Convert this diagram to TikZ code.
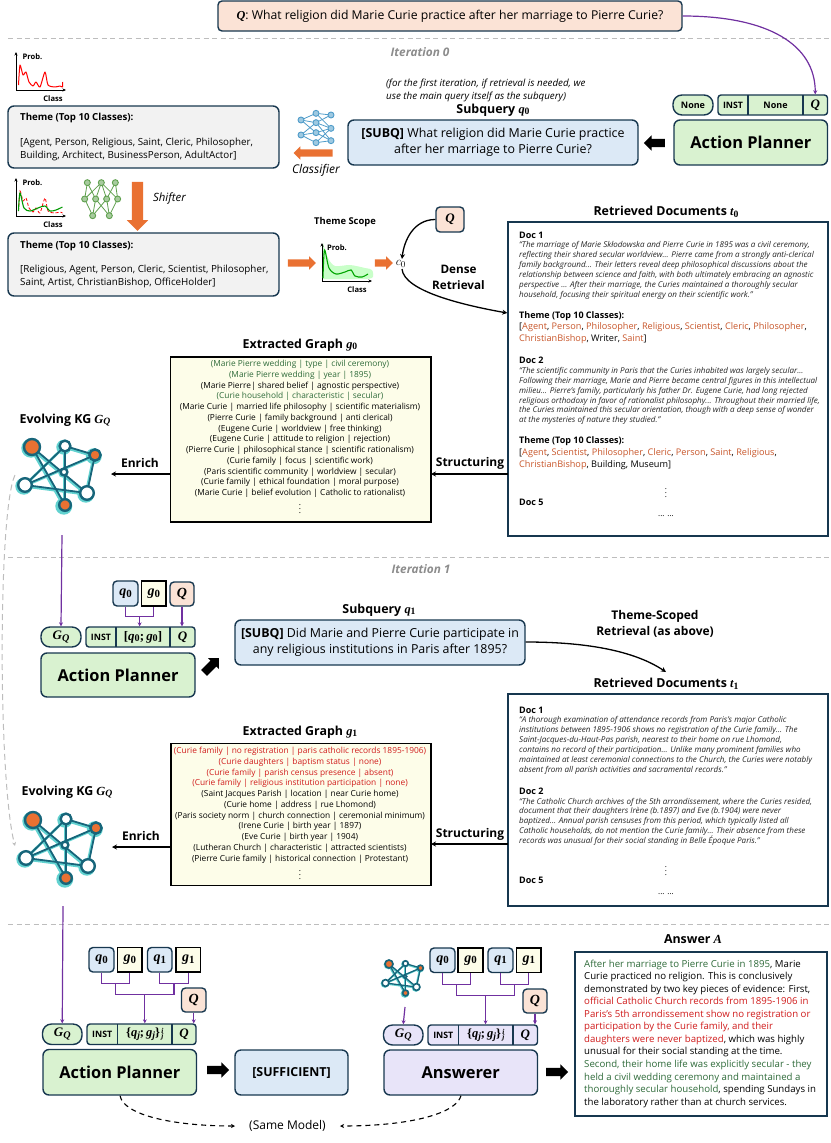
\documentclass[tikz,border=0pt]{standalone}
\usepackage{amsmath,bm}
\usepackage{fontspec}
\setmainfont{Open Sans}
\newfontfamily\mfam{Liberation Serif}
\usetikzlibrary{arrows.meta,shapes.arrows,calc}
\definecolor{dk}{HTML}{17374F}
\definecolor{gfill}{HTML}{D9F2D0}
\definecolor{bfill}{HTML}{DCE9F6}
\definecolor{pfill}{HTML}{FBE3D6}
\definecolor{gyfill}{HTML}{F2F2F2}
\definecolor{yfill}{HTML}{FDFDE9}
\definecolor{lfill}{HTML}{E8E4F9}
\definecolor{org}{HTML}{E97132}
\definecolor{pur}{HTML}{7030A0}
\definecolor{ltxt}{HTML}{C8562A}
\definecolor{gtxt}{HTML}{2F6B3A}
\definecolor{rtxt}{HTML}{D01C1C}
\definecolor{dashc}{HTML}{BDBDBD}
\definecolor{kgd}{HTML}{17657A}
\definecolor{kgl}{HTML}{62D2D0}
\definecolor{nnb}{HTML}{4F9CC9}
\definecolor{nng}{HTML}{5FA04E}
\newcommand\fs[1]{\fontsize{#1}{#1}\selectfont}
\newcommand\mv[2]{{\mfam\bfseries\itshape #1\raisebox{-.28ex}{\scalebox{.78}{\upshape #2}}}}
\newcommand\mO{{\mfam\bfseries\itshape Q}}
\newcommand\mG{\mv{G}{\itshape Q}}
\newcommand\mT{{\mfam\bfseries\upshape\{}\mv{q}{\itshape j}{\mfam\bfseries\upshape;\,}\mv{g}{\itshape j}{\mfam\bfseries\upshape\}}{\mfam\bfseries\itshape\raisebox{.55ex}{\scalebox{.6}{\,i}}\llap{\raisebox{-.4ex}{\scalebox{.6}{j}}}}}
\newcommand\rt[1]{\textcolor{ltxt}{#1}}
\newcommand\bx[7][]{%
  \pgfmathsetmacro\cxx{(#3+#5)/2}\pgfmathsetmacro\cyy{(#4+#6)/2}%
  \pgfmathsetmacro\wxx{#5-#3}\pgfmathsetmacro\hyy{#6-#4}%
  \node[#1,minimum width=\wxx pt,minimum height=\hyy pt] (#2) at (\cxx,\cyy) {#7};}
% name x1 y1 x2 y2 d1 d2 fill mid
\newcommand\tup[9]{%
  \bx[rbox,rounded corners=3pt,fill=#8]{#1}{#2}{#3}{#4}{#5}{}%
  \pgfmathsetmacro\ccy{(#3+#5)/2}%
  \pgfmathsetmacro\ca{(#2+#6)/2}\pgfmathsetmacro\cb{(#6+#7)/2}\pgfmathsetmacro\cc{(#7+#4)/2}%
  \node[inner sep=0pt,font=\bfseries\fs{8.8}] (#1i) at (\ca,\ccy) {INST};
  \node[inner sep=0pt,font=\fs{10}] (#1m) at (\cb,\ccy) {#9};
  \node[inner sep=0pt,font=\fs{13}] (#1q) at (\cc,\ccy) {\mO};
  \draw[dk,line width=1.4pt] (#6,#3) -- (#6,#5) (#7,#3) -- (#7,#5);}
\newcommand\kg[5]{%
 \begin{scope}[shift={(#2,#3)},scale=#4]
  \coordinate (#1a) at (32,447); \coordinate (#1b) at (65,446); \coordinate (#1c) at (95,455);
  \coordinate (#1d) at (64,472); \coordinate (#1e) at (25,485); \coordinate (#1f) at (87,493);
  \coordinate (#1g) at (65,505);
  \foreach \u/\v in {a/g,a/f,b/c,b/g,e/b,e/c,e/f,c/f}{
    \draw[kgl,line width=#5*2.6pt] ($(#1\u)+(-1.2,1.2)$) -- ($(#1\v)+(-1.2,1.2)$);}
  \foreach \p/\r in {a/9.5,b/7.5,c/8,d/4.5,e/8.5,f/8.5,g/8.5}{
    \fill[kgl] ($(#1\p)+(-1.2,1.2)$) circle[radius=\r];}
  \foreach \u/\v in {a/g,a/f,b/c,b/g,e/b,e/c,e/f,c/f}{
    \draw[kgd,line width=#5*1.8pt] (#1\u) -- (#1\v);}
  \foreach \p/\r/\c in {a/8/org,c/5.6/org,g/5.8/org,b/5.4/white,d/3.4/white,e/6.8/white,f/6.8/white}{
    \draw[kgd,line width=#5*2.4pt,fill=\c] (#1\p) circle[radius=\r];}
 \end{scope}}
\newcommand\chartaxes[5]{% name x y probx classx
  \coordinate (#1o) at (#2,#3);
  \draw[-{Stealth[length=3.5pt,width=3pt]},black,line width=.8pt] (#1o) -- ++(0,-38);
  \draw[-{Stealth[length=3.5pt,width=3pt]},black,line width=.8pt] (#1o) -- ++(50,0);
  \node[font=\bfseries\fs{7.6}] (#1p) at (#4,{#3-33}) {Prob.};
  \node[font=\bfseries\fs{7.6}] (#1cl) at (#5,{#3+8.5}) {Class};}
\tikzset{
 rbox/.style={draw=dk,line width=1.4pt,rounded corners=6pt,inner sep=0pt,align=center},
 sbox/.style={draw=black,line width=1.4pt,fill=yfill,inner sep=0pt},
 dbox/.style={draw=dk,line width=1.4pt,fill=white,inner sep=0pt},
 ttl/.style={font=\bfseries\fs{12.4},inner sep=0pt},
 lbl/.style={font=\bfseries\fs{12},inner sep=0pt,align=center},
 doctxt/.style={anchor=west,inner sep=0pt,align=left,font=\itshape\fontsize{8.05}{9.85}\selectfont,text=black!85},
 dochd/.style={anchor=west,inner sep=0pt,font=\bfseries\fs{9}},
 thtxt/.style={anchor=west,inner sep=0pt,align=left,font=\fontsize{9.15}{11.8}\selectfont},
 thhd/.style={anchor=west,inner sep=0pt,font=\bfseries\fs{9}},
 gr/.style={inner sep=0pt,align=center,font=\fontsize{8.35}{10.75}\selectfont,anchor=north},
 sep/.style={dashc,line width=1pt,dash pattern=on 5pt off 3.5pt},
 purl/.style={pur,line width=1.2pt},
 purr/.style={pur,line width=1.2pt,-{Stealth[length=4pt,width=4pt]}},
 blk/.style={black,line width=1.3pt,-{Stealth[length=5pt,width=5pt]}},
 dsh/.style={black,line width=1.1pt,dash pattern=on 5pt off 4pt,-{Stealth[length=4pt,width=4pt]}},
 bigk/.style={single arrow,draw=none,fill=black,inner xsep=0pt,inner ysep=4pt,single arrow head extend=3.5pt,single arrow head indent=0pt},
 bigo/.style={single arrow,draw=none,fill=org,inner xsep=0pt,inner ysep=3.5pt,single arrow head extend=3pt},
 sqt/.style={font=\fontsize{12.4}{16.5}\selectfont},
 mvb/.style={font=\fs{14}},
}
\begin{document}
\begin{tikzpicture}[x=1pt,y=-1pt]
\useasboundingbox (0,0) rectangle (830,1143);
% separators
\coordinate (s1a) at (8,38.5); \coordinate (s1b) at (830,38.5);
\coordinate (s2a) at (8,557.5); \coordinate (s2b) at (830,557.5);
\coordinate (s3a) at (8,924); \coordinate (s3b) at (830,924);
\draw[sep] (s1a)--(s1b); \draw[sep] (s2a)--(s2b); \draw[sep] (s3a)--(s3b);
\node[font=\bfseries\itshape\fs{11.8},text=black!45] (it0) at (420,52) {Iteration 0};
\node[font=\bfseries\itshape\fs{11.8},text=black!45] (it1) at (421,569) {Iteration 1};
% Top question
\bx[rbox,fill=pfill,rounded corners=4pt,font=\fs{12.2}]{Qtop}{218}{1}{682}{31}{\mO: What religion did Marie Curie practice after her marriage to Pierre Curie?}
% ---------- Iteration 0, top row
\bx[rbox,fill=gfill,font=\bfseries\fs{16.4}]{ap0}{674}{120}{827.5}{165}{Action Planner}
\bx[rbox,fill=gfill,rounded corners=9pt,font=\bfseries\fs{9}]{none0}{673}{95}{713}{115}{None}
\tup{tp0}{718}{95}{827.5}{115}{748}{803}{gfill}{\bfseries\fs{9}None}
\draw[pur,line width=1.2pt,-{Stealth[length=4pt,width=4pt]}] (Qtop.east) .. controls +(85,0) and +(0,-50) .. (tp0q.north|-tp0.north);
\bx[rbox,fill=bfill,sqt]{sq0}{348}{120}{638}{165}{\textbf{[SUBQ]} What religion did Marie Curie practice\\after her marriage to Pierre Curie?}
\node[ttl] (sq0t) at (493,110) {Subquery \mv{q}{0}};
\node[font=\itshape\fontsize{9.8}{13}\selectfont,align=left,anchor=west,inner sep=0pt] (note) at (386,90.5) {(for the first iteration, if retrieval is needed, we\\use the main query itself as the subquery)};
\node[bigk,minimum height=21pt,shape border rotate=180] (ar1) at (656.5,143) {};
% classifier
\begin{scope}
 \foreach \n/\a/\b in {a/903/360,b/903/405,c/948/340,d/948/368,e/948/398,f/948/428,g/993/345,h/993/385,i/993/422}{
   \coordinate (n\n) at ({\a/3},{\b/3});}
 \foreach \u/\v in {a/c,a/d,a/e,b/d,b/e,b/f,c/g,c/h,d/g,d/h,d/i,e/h,e/i,f/h,f/i}{\draw[nnb,line width=.8pt] (n\u)--(n\v);}
 \foreach \u in {a,b,c,d,e,f,g,h,i}{\draw[nnb,line width=.9pt,fill=nnb!55] (n\u) circle[radius=3];}
\end{scope}
\node[bigo,minimum height=39pt,shape border rotate=180] (ar2) at (315,153) {};
\node[font=\itshape\fs{12},inner sep=0pt] (clf) at (316,170) {Classifier};
% theme boxes
\bx[rbox,fill=gyfill]{th1}{8}{106}{279}{168}{}
\node[thhd,font=\bfseries\fs{9.7}] (th1h) at (20,118) {Theme (Top 10 Classes):};
\node[anchor=west,inner sep=0pt,align=left,font=\fontsize{9.8}{12.8}\selectfont] (th1t) at (20,149.5) {[Agent, Person, Religious, Saint, Cleric, Philosopher,\\Building, Architect, BusinessPerson, AdultActor]};
\bx[rbox,fill=gyfill]{th2}{8}{233}{279}{296}{}
\node[thhd,font=\bfseries\fs{9.7}] (th2h) at (20,245.5) {Theme (Top 10 Classes):};
\node[anchor=west,inner sep=0pt,align=left,font=\fontsize{9.8}{12.8}\selectfont] (th2t) at (20,276.5) {[Religious, Agent, Person, Cleric, Scientist, Philosopher,\\Saint, Artist, ChristianBishop, OfficeHolder]};
% chart 1
\chartaxes{c1}{16}{90}{32.5}{53}
\draw[red,line width=1pt,line join=round] plot[smooth,tension=.4] coordinates {(18.5,85)(20,65)(23,75)(26,72)(29,82)(33,86)(36,82)(40,87)(45,72)(48,85)(55,87)(60,86)(62.5,87)(62.5,82)};
% chart 2
\chartaxes{c2}{16}{216}{32.5}{53}
\draw[red,line width=.8pt,densely dashed] plot[smooth,tension=.4] coordinates {(18.5,211)(20,191)(23,201)(26,198)(29,208)(33,212)(36,208)(40,213)(45,198)(48,211)(55,213)(60,212)(62.5,213)};
\draw[green!60!black,line width=1.1pt] plot[smooth,tension=.5] coordinates {(18.5,211)(20,193)(24,208)(30,211)(38,208)(45,206)(50,211)(56,210)(62.5,207)};
% shifter NN
\begin{scope}
 \foreach \n/\a/\b in {a/262/548,b/304/548,c/346/548,d/254/597,e/287/597,f/320/597,g/353/597,h/278/647,i/328/647}{
   \coordinate (m\n) at ({\a/3},{\b/3});}
 \foreach \u/\v in {a/d,a/e,b/d,b/e,b/f,c/f,c/g,b/g,d/h,e/h,f/h,f/i,g/i,e/i}{\draw[nng,line width=.8pt] (m\u)--(m\v);}
 \foreach \u in {a,b,c,d,e,f,g,h,i}{\draw[nng,line width=.9pt,fill=nng!55] (m\u) circle[radius=3];}
\end{scope}
\node[bigo,minimum height=49pt,inner ysep=5.5pt,rotate=-90,single arrow head extend=5pt] (ar3) at (137.5,203.5) {};
\node[font=\itshape\fs{11.4},inner sep=0pt] (shf) at (169.5,199) {Shifter};
% theme scope
\node[bigo,minimum height=28pt] (ar4) at (300,263) {};
\node[font=\bfseries\fs{9.4},inner sep=0pt] (tsc) at (345,222) {Theme Scope};
\fill[green!30,opacity=.7] plot[smooth,tension=.5] coordinates {(323,243)(328,258)(335,266)(350,265)(365,268)(372,270)(372,278)(355,279)(335,279)(323,279)} -- cycle;
\chartaxes{c3}{322}{281}{337}{357}
\draw[green!65!black,line width=1.1pt] plot[smooth,tension=.5] coordinates {(323,278)(324.5,250)(329,268)(336,274)(345,272)(351,270)(355,276)(362,277)(368,274)};
\node[bigo,minimum height=18pt] (ar5) at (382,263) {};
\node[font=\fs{13}] (c0) at (401,264) {$c_0$};
\bx[rbox,fill=pfill,rounded corners=4pt,font=\fs{13}]{Qc}{436}{207}{464}{232}{\mO}
\draw[blk] (Qc.west) .. controls +(-22,0) and +(2,-18) .. ($(c0.north)+(1,2)$);
\node[lbl,font=\bfseries\fontsize{11.7}{16}\selectfont] (dr) at (458.5,277) {Dense\\Retrieval};
% retrieved docs 0
\node[ttl] (rd0t) at (666,212) {Retrieved Documents \mv{t}{0}};
\bx[dbox]{rd0}{508}{222}{828}{536}{}
\draw[blk] ($(c0.south)+(1,-2)$) .. controls +(2,22) and +(-45,-8) .. (rd0.west|-0,313);
\node[dochd] (d1h) at (519,235) {Doc 1};
\node[doctxt] (d1t) at (519,270.4) {``The marriage of Marie Skłodowska and Pierre Curie in 1895 was a civil ceremony,\\reflecting their shared secular worldview... Pierre came from a strongly anti-clerical\\family background... Their letters reveal deep philosophical discussions about the\\relationship between science and faith, with both ultimately embracing an agnostic\\perspective ... After their marriage, the Curies maintained a thoroughly secular\\household, focusing their spiritual energy on their scientific work.''};
\node[thhd] (t1h) at (519,316) {Theme (Top 10 Classes):};
\node[thtxt] (t1t) at (519,333) {[\rt{Agent}, \rt{Person}, \rt{Philosopher}, \rt{Religious}, \rt{Scientist}, \rt{Cleric}, \rt{Philosopher},\\\rt{ChristianBishop}, Writer, \rt{Saint}]};
\node[dochd] (d2h) at (519,360.7) {Doc 2};
\node[doctxt] (d2t) at (519,396) {``The scientific community in Paris that the Curies inhabited was largely secular...\\Following their marriage, Marie and Pierre became central figures in this intellectual\\milieu... Pierre's family, particularly his father Dr. Eugene Curie, had long rejected\\religious orthodoxy in favor of rationalist philosophy... Throughout their married life,\\the Curies maintained this secular orientation, though with a deep sense of wonder\\at the mysteries of nature they studied.''};
\node[thhd] (t2h) at (519,441) {Theme (Top 10 Classes):};
\node[thtxt] (t2t) at (519,459.5) {[\rt{Agent}, \rt{Scientist}, \rt{Philosopher}, \rt{Cleric}, \rt{Person}, \rt{Saint}, \rt{Religious},\\\rt{ChristianBishop}, Building, Museum]};
\node[inner sep=0pt,font=\fs{8}] (vd0) at (666,490) {$\vdots$};
\node[dochd] (d5h) at (519,502.7) {Doc 5};
\node[inner sep=0pt,font=\fs{8}] (dd0) at (666,516) {... ...};
% extracted graph 0
\node[ttl] (g0t) at (300,345) {Extracted Graph \mv{g}{0}};
\bx[sbox]{g0}{170.5}{357}{431}{522}{}
\node[gr] (g0x) at (300,360) {\textcolor{gtxt}{(Marie Pierre wedding | type | civil ceremony)}\\\textcolor{gtxt}{(Marie Pierre wedding | year | 1895)}\\(Marie Pierre| shared belief | agnostic perspective)\\\textcolor{gtxt}{(Curie household | characteristic | secular)}\\(Marie Curie | married life philosophy | scientific materialism)\\(Pierre Curie | family background | anti clerical)\\(Eugene Curie | worldview | free thinking)\\(Eugene Curie | attitude to religion | rejection)\\(Pierre Curie | philosophical stance | scientific rationalism)\\(Curie family | focus | scientific work)\\(Paris scientific community | worldview | secular)\\(Curie family | ethical foundation | moral purpose)\\(Marie Curie | belief evolution | Catholic to rationalist)\\$\vdots$};
\coordinate (rd0s) at (508,474); \coordinate (g0e) at (431,474); \coordinate (g0w) at (170.5,474); \coordinate (kg0e) at (111,474);
\draw[blk] (rd0s) -- (g0e);
\draw[blk] (g0w) -- (kg0e);
\node[lbl] (st0) at (470,463) {Structuring};
\node[lbl] (en0) at (140,463) {Enrich};
\node[ttl] (kg0t) at (65,420) {Evolving KG \mG};
\kg{a}{0}{0}{1}{1}
\kg{b}{1}{373}{1}{1}
% grey dashed
\coordinate (gs) at (15,475); \coordinate (ge) at (15,846);
\draw[dashc,line width=1pt,dash pattern=on 6pt off 4pt,-{Stealth[length=4pt,width=4pt]}] (gs) .. controls (-2,510) and (-2,780) .. (ge);
% ---------- Iteration 1
\bx[rbox,fill=gfill,rounded corners=9pt,font=\fs{13}]{gq1}{41}{627}{81}{647}{\mG}
\tup{tp1}{86}{627}{195}{647}{116}{170}{gfill}{\fs{13}{\mfam\bfseries\upshape[}\mv{q}{0}{\mfam\bfseries\upshape;\,}\mv{g}{0}{\mfam\bfseries\upshape]}}
\bx[rbox,fill=gfill,font=\bfseries\fs{16.4}]{ap1}{41}{653}{195}{697}{Action Planner}
\bx[rbox,fill=bfill,rounded corners=4pt,mvb]{q01}{113}{581}{138}{606}{\mv{q}{0}}
\bx[sbox,mvb]{g01}{141.5}{581}{166}{606}{\mv{g}{0}}
\bx[rbox,fill=pfill,rounded corners=4pt,mvb]{Q1}{170}{582}{194}{606}{\mO}
\coordinate (kg0b) at (62,535);
\draw[purr] (kg0b) -- (gq1.north);
\draw[purl] (q01.south) |- ++(14,10) -| (g01.south);
\coordinate (j1) at ($(q01.south)!.5!(g01.south)+(0,10)$);
\draw[purr] (j1) -- (j1|-tp1.north);
\draw[purr] (Q1.south) -- (Q1.south|-tp1.north);
\node[bigk,minimum height=21pt,rotate=45] (ar6) at (210,667) {};
\node[ttl] (sq1t) at (379,610) {Subquery \mv{q}{1}};
\bx[rbox,fill=bfill,sqt]{sq1}{235}{620}{525}{665}{\textbf{[SUBQ]} Did Marie and Pierre Curie participate in\\any religious institutions in Paris after 1895?}
\node[lbl,font=\bfseries\fontsize{12}{16}\selectfont] (tsr) at (655,624) {Theme-Scoped\\Retrieval (as above)};
\coordinate (rd1n) at (666,672);
\draw[blk] (sq1.east|-0,642) .. controls +(65,0) and +(-30,-20) .. (rd1n);
\node[ttl] (rd1t) at (666,684) {Retrieved Documents \mv{t}{1}};
\bx[dbox]{rd1}{508}{694}{828}{906}{}
\node[dochd] (e1h) at (519,710) {Doc 1};
\node[doctxt] (e1t) at (519,745.3) {``A thorough examination of attendance records from Paris's major Catholic\\institutions between 1895-1906 shows no registration of the Curie family... The\\Saint-Jacques-du-Haut-Pas parish, nearest to their home on rue Lhomond,\\contains no record of their participation... Unlike many prominent families who\\maintained at least ceremonial connections to the Church, the Curies were notably\\absent from all parish activities and sacramental records.''};
\node[dochd] (e2h) at (519,791) {Doc 2};
\node[doctxt] (e2t) at (519,821.7) {``The Catholic Church archives of the 5th arrondissement, where the Curies resided,\\document that their daughters Irène (b.1897) and Eve (b.1904) were never\\baptized... Annual parish censuses from this period, which typically listed all\\Catholic households, do not mention the Curie family... Their absence from these\\records was unusual for their social standing in Belle Époque Paris.''};
\node[inner sep=0pt,font=\fs{8}] (vd1) at (666,868) {$\vdots$};
\node[dochd] (e5h) at (519,880.7) {Doc 5};
\node[inner sep=0pt,font=\fs{8}] (dd1) at (666,894) {... ...};
% graph 1
\node[ttl] (g1t) at (300,732) {Extracted Graph \mv{g}{1}};
\bx[sbox]{g1}{171}{743.5}{431}{885.5}{}
\node[gr] (g1x) at (300,747) {\textcolor{rtxt}{(Curie family | no registration | paris catholic records 1895-1906)}\\\textcolor{rtxt}{(Curie daughters | baptism status | none)}\\\textcolor{rtxt}{(Curie family | parish census presence | absent)}\\\textcolor{rtxt}{(Curie family | religious institution participation | none)}\\(Saint Jacques Parish | location | near Curie home)\\(Curie home | address | rue Lhomond)\\(Paris society norm | church connection | ceremonial minimum)\\(Irene Curie | birth year | 1897)\\(Eve Curie | birth year | 1904)\\(Lutheran Church | characteristic | attracted scientists)\\(Pierre Curie family | historical connection | Protestant)\\$\vdots$};
\coordinate (rd1s) at (508,844); \coordinate (g1e) at (431,844); \coordinate (g1w) at (171,847); \coordinate (kg1e) at (112,847);
\draw[blk] (rd1s) -- (g1e);
\draw[blk] (g1w) -- (kg1e);
\node[lbl] (st1) at (470,834) {Structuring};
\node[lbl] (en1) at (141,836) {Enrich};
\node[ttl] (kg1t) at (67,792) {Evolving KG \mG};
% ---------- Final iteration
\bx[rbox,fill=gfill,rounded corners=9pt,font=\fs{13}]{gq2}{42.5}{1024}{82}{1044.5}{\mG}
\tup{tp2}{87}{1024}{196}{1044.5}{117.5}{172}{gfill}{\fs{12.5}\mT}
\bx[rbox,fill=gfill,font=\bfseries\fs{16.4}]{ap2}{43}{1049.5}{196.5}{1095}{Action Planner}
\bx[rbox,fill=bfill,font=\bfseries\fs{12.4}]{suf}{235}{1050}{348}{1095}{[SUFFICIENT]}
\node[bigk,minimum height=22pt] (ar7) at (216,1070) {};
\bx[rbox,fill=bfill,rounded corners=4pt,mvb]{q02}{89}{947.5}{114}{972}{\mv{q}{0}}
\bx[sbox,mvb]{g02}{117.5}{947.5}{142}{972}{\mv{g}{0}}
\bx[rbox,fill=bfill,rounded corners=4pt,mvb]{q12}{147.5}{947.5}{172}{972}{\mv{q}{1}}
\bx[sbox,mvb]{g12}{176}{947.5}{200.5}{972}{\mv{g}{1}}
\bx[rbox,fill=pfill,rounded corners=4pt,mvb]{Q2}{181.5}{988}{206}{1012}{\mO}
\draw[purl] (q02.south) |- ++(14,11) -| (g02.south);
\draw[purl] (q12.south) |- ++(14,11) -| (g12.south);
\coordinate (j2a) at ($(q02.south)!.5!(g02.south)+(0,11)$);
\coordinate (j2b) at ($(q12.south)!.5!(g12.south)+(0,11)$);
\draw[purl] (j2a) |- ++(30,11) -| (j2b);
\coordinate (j2c) at ($(j2a)!.5!(j2b)+(0,11)$);
\draw[purr] (j2c) -- (j2c|-tp2.north);
\draw[purr] (Q2.south) -- (Q2.south|-tp2.north);
\coordinate (kg1b) at (63,906);
\draw[purr] (kg1b) -- (gq2.north);
% answerer
\kg{c}{373}{740.5}{.5}{.7}
\coordinate (kg2b) at (405,1007);
\bx[rbox,fill=lfill,rounded corners=9pt,font=\fs{13}]{gq3}{383.5}{1025}{423}{1045}{\mG}
\tup{tp3}{428}{1025}{537.5}{1045}{458.5}{513}{lfill}{\fs{12.5}\mT}
\bx[rbox,fill=lfill,font=\bfseries\fs{16.4}]{ans}{384}{1050}{537.5}{1095}{Answerer}
\draw[purr] (kg2b) -- (gq3.north);
\bx[rbox,fill=bfill,rounded corners=4pt,mvb]{q03}{430}{948}{455}{972.5}{\mv{q}{0}}
\bx[sbox,mvb]{g03}{458}{948}{483}{972.5}{\mv{g}{0}}
\bx[rbox,fill=bfill,rounded corners=4pt,mvb]{q13}{488}{948}{513}{972.5}{\mv{q}{1}}
\bx[sbox,mvb]{g13}{516.5}{948}{541}{972.5}{\mv{g}{1}}
\bx[rbox,fill=pfill,rounded corners=4pt,mvb]{Q3}{523}{989}{547}{1013}{\mO}
\draw[purl] (q03.south) |- ++(14,11) -| (g03.south);
\draw[purl] (q13.south) |- ++(14,11) -| (g13.south);
\coordinate (j3a) at ($(q03.south)!.5!(g03.south)+(0,11)$);
\coordinate (j3b) at ($(q13.south)!.5!(g13.south)+(0,11)$);
\draw[purl] (j3a) |- ++(30,11) -| (j3b);
\coordinate (j3c) at ($(j3a)!.5!(j3b)+(0,11)$);
\draw[purr] (j3c) -- (j3c|-tp3.north);
\draw[purr] (Q3.south) -- (Q3.south|-tp3.north);
\node[bigk,minimum height=22pt] (ar8) at (555,1072) {};
\node[ttl] (anst) at (693,939) {Answer {\mfam\bfseries\itshape A}};
\bx[dbox]{ansb}{575}{952}{827}{1116}{}
\node[anchor=west,inner sep=0pt,align=left,font=\fontsize{9.65}{12.56}\selectfont] (anst2) at (584,1033.6) {\textcolor{gtxt}{After her marriage to Pierre Curie in 1895}, Marie\\Curie practiced no religion. This is conclusively\\demonstrated by two key pieces of evidence: First,\\\textcolor{rtxt}{official Catholic Church records from 1895-1906 in}\\\textcolor{rtxt}{Paris's 5th arrondissement show no registration or}\\\textcolor{rtxt}{participation by the Curie family, and their}\\\textcolor{rtxt}{daughters were never baptized}, which was highly\\unusual for their social standing at the time.\\\textcolor{gtxt}{Second, their home life was explicitly secular - they}\\\textcolor{gtxt}{held a civil wedding ceremony and maintained a}\\\textcolor{gtxt}{thoroughly secular household}, spending Sundays in\\the laboratory rather than at church services.};
% same model
\node[font=\fs{12},inner sep=0pt] (same) at (287.5,1126) {(Same Model)};
\draw[dsh] (ap2.south-|120,0) .. controls +(4,20) and +(-60,0) .. ($(same.west)+(-14,0)$);
\draw[dsh] (ans.south-|461,0) .. controls +(-5,18) and +(70,0) .. ($(same.east)+(14,0)$);
\end{tikzpicture}
\end{document}
